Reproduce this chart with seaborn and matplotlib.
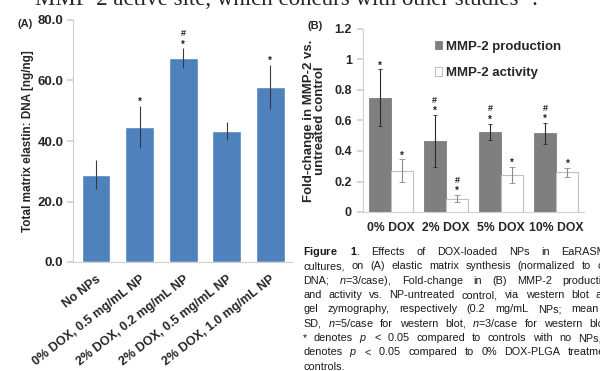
import numpy as np
import pandas as pd
import matplotlib
matplotlib.use('Agg')
import matplotlib.pyplot as plt
import seaborn as sns

# (A) total matrix elastin normalized to DNA, mean and SD
groups_a = ['No NPs', '0% DOX, 0.5 mg/mL NP', '2% DOX, 0.2 mg/mL NP',
            '2% DOX, 0.5 mg/mL NP', '2% DOX, 1.0 mg/mL NP']
elastin = [28.8, 44.7, 67.4, 43.4, 57.9]
elastin_sd = [4.8, 7.0, 3.3, 3.0, 7.3]
star_a = [False, True, True, False, True]
hash_a = [False, False, True, False, False]

# (B) fold-change in MMP-2 vs. untreated control
doses = ['0% DOX', '2% DOX', '5% DOX', '10% DOX']
production = [0.75, 0.466, 0.525, 0.515]
production_sd = [0.185, 0.17, 0.055, 0.07]
activity = [0.27, 0.088, 0.243, 0.26]
activity_sd = [0.075, 0.024, 0.055, 0.03]
star_prod = [True, True, True, True]
hash_prod = [False, True, True, True]
star_act = [True, True, True, True]
hash_act = [False, True, False, False]

top_line = 'MMP-2 active site, which concurs with other studies \u2074.'
caption = [
    r'$\mathbf{Figure}$ $\mathbf{1}$. Effects of DOX-loaded NPs in EaRASMC',
    'cultures, on (A) elastic matrix synthesis (normalized to cell',
    r'DNA; $n$=3/case), Fold-change in (B) MMP-2 production',
    'and activity vs. NP-untreated control, via western blot and',
    'gel zymography, respectively (0.2 mg/mL NPs; mean \u00b1',
    r'SD, $n$=5/case for western blot, $n$=3/case for western blot);',
    r'* denotes $p$ < $\mathit{0.05}$ compared to controls with no NPs, #',
    r'denotes $p$ < $\mathit{0.05}$ compared to 0% DOX-PLGA treatment',
    'controls.',
]

sns.set_theme(style='white')
plt.rcParams['font.family'] = ['Liberation Sans', 'DejaVu Sans']
plt.rcParams['mathtext.fontset'] = 'custom'
plt.rcParams['mathtext.rm'] = 'Liberation Sans'
plt.rcParams['mathtext.it'] = 'Liberation Sans:italic'
plt.rcParams['mathtext.bf'] = 'Liberation Sans:bold'

W, H = 600, 371
fig = plt.figure(figsize=(W / 100, H / 100), dpi=100)


def px_axes(x0, y0, x1, y1):
    return fig.add_axes([x0 / W, 1 - y1 / H, (x1 - x0) / W, (y1 - y0) / H])


def add_marks(ax, xs, tops, stars, hashes):
    for x, t, s, h in zip(xs, tops, stars, hashes):
        if s:
            ax.annotate('*', (x, t), xytext=(0, 2.7), textcoords='offset points',
                        ha='center', va='center', fontsize=7, fontweight='bold', color='#222222')
        if h:
            ax.annotate('#', (x, t), xytext=(0, 10.5), textcoords='offset points',
                        ha='center', va='center', fontsize=6.5, fontweight='bold', color='#222222')


grey_axis = '#d0d0d0'

# ---- panel A
axa = px_axes(73, 20, 292, 262)
df_a = pd.DataFrame({'group': groups_a, 'elastin': elastin, 'sd': elastin_sd})
sns.barplot(data=df_a, x='group', y='elastin', color='#4F81BD', saturation=1,
            width=0.66, errorbar=None, ax=axa)
xa = np.arange(len(df_a))
axa.errorbar(xa, df_a['elastin'], yerr=df_a['sd'], fmt='none', ecolor='#3a3a3a',
             elinewidth=0.8, capsize=0)
add_marks(axa, xa, df_a['elastin'] + df_a['sd'], star_a, hash_a)
axa.set_ylim(0, 80)
axa.set_xlim(-0.53, 4.5)
axa.set_yticks([0, 20, 40, 60, 80])
axa.set_yticklabels([f'{v:.1f}' for v in [0, 20, 40, 60, 80]], fontsize=9.5, fontweight='bold')
axa.set_xticks(xa)
axa.set_xticklabels(groups_a, rotation=38, ha='right', rotation_mode='anchor',
                    fontsize=9, fontweight='bold')
axa.set_xticks(np.arange(-0.5, 5, 1), minor=True)
axa.tick_params(axis='x', which='major', length=0, pad=8)
axa.tick_params(axis='x', which='minor', length=4, color=grey_axis, direction='out')
axa.tick_params(axis='y', length=4, color=grey_axis, direction='out', pad=3, left=True)
axa.set_xlabel('')
axa.set_ylabel('Total matrix elastin: DNA [ng/ng]', fontsize=8.5, fontweight='bold')
axa.yaxis.set_label_coords(-0.178, 0.5)
sns.despine(ax=axa)
for s in ['left', 'bottom']:
    axa.spines[s].set_color(grey_axis)
    axa.spines[s].set_linewidth(0.8)

# ---- panel B
axb = px_axes(363, 29, 584, 212)
df_b = pd.DataFrame({
    'dose': doses * 2,
    'measure': ['MMP-2 production'] * 4 + ['MMP-2 activity'] * 4,
    'fold': production + activity,
})
sns.barplot(data=df_b, x='dose', y='fold', hue='measure', palette=['#7f7f7f', 'white'],
            saturation=1, width=0.8, errorbar=None, ax=axb)
prod_bars, act_bars = axb.containers[0], axb.containers[1]
for p in prod_bars:
    p.set_edgecolor('#7f7f7f')
    p.set_linewidth(0.6)
for p in act_bars:
    p.set_edgecolor('#bfbfbf')
    p.set_linewidth(0.8)
xp = [p.get_x() + p.get_width() / 2 for p in prod_bars]
xw = [p.get_x() + p.get_width() / 2 for p in act_bars]
axb.errorbar(xp, production, yerr=production_sd, fmt='none', ecolor='#2a2a2a',
             elinewidth=0.8, capsize=1.5, capthick=0.6)
axb.errorbar(xw, activity, yerr=activity_sd, fmt='none', ecolor='#8a8a8a',
             elinewidth=0.8, capsize=2, capthick=0.6)
add_marks(axb, xp, np.add(production, production_sd), star_prod, hash_prod)
add_marks(axb, xw, np.add(activity, activity_sd), star_act, hash_act)
axb.set_ylim(0, 1.2)
axb.set_xlim(-0.5, 3.5)
yb = [0, 0.2, 0.4, 0.6, 0.8, 1.0, 1.2]
axb.set_yticks(yb)
axb.set_yticklabels(['0', '0.2', '0.4', '0.6', '0.8', '1', '1.2'], fontsize=9, fontweight='bold')
axb.set_xticks(range(4))
axb.set_xticklabels(doses, fontsize=8.8, fontweight='bold')
axb.set_xticks(np.arange(-0.5, 4, 1), minor=True)
axb.tick_params(axis='x', which='major', length=0, pad=7)
axb.tick_params(axis='x', which='minor', length=4, color=grey_axis, direction='out')
axb.tick_params(axis='y', length=4, color=grey_axis, direction='out', pad=4, left=True)
axb.set_xlabel('')
axb.set_ylabel('Fold-change in MMP-2 vs.\nuntreated control', fontsize=9.5,
               fontweight='bold', linespacing=0.95)
axb.yaxis.set_label_coords(-0.167, 0.5)
sns.despine(ax=axb)
for s in ['left', 'bottom']:
    axb.spines[s].set_color(grey_axis)
    axb.spines[s].set_linewidth(0.8)
axb.legend([prod_bars[0], act_bars[0]], ['MMP-2 production', 'MMP-2 activity'],
           frameon=False, loc='upper left', bbox_to_anchor=(0.3, 0.965),
           handlelength=0.6, handleheight=0.6, handletextpad=0.25, labelspacing=1.1,
           borderaxespad=0, prop={'weight': 'bold', 'size': 9.5})

# panel letters and the text around the figure
fig.text(17 / W, 1 - 24 / H, '(A)', fontsize=8, fontweight='bold', va='center')
fig.text(308 / W, 1 - 26 / H, '(B)', fontsize=8, fontweight='bold', va='center')
fig.text(35 / W, 1 - 5 / H, top_line, fontsize=16.5,
         family=['Liberation Serif', 'DejaVu Serif'], va='baseline')

fig.canvas.draw()
renderer = fig.canvas.get_renderer()
x_left, x_right = 303, 614
for i, line in enumerate(caption):
    y = 1 - (255 + i * 14.35) / H
    words = line.split(' ')
    objs = [fig.text(0, y, w, fontsize=7.8, va='baseline', color='#1a1a1a') for w in words]
    widths = [t.get_window_extent(renderer).width for t in objs]
    natural = 2.3
    if i < len(caption) - 1 and len(words) > 1:
        gap = max(natural, (x_right - x_left - sum(widths)) / (len(words) - 1))
    else:
        gap = natural
    x = x_left
    for t, w in zip(objs, widths):
        t.set_x(x / W)
        x += w + gap

fig.savefig('out.png', dpi=100)
